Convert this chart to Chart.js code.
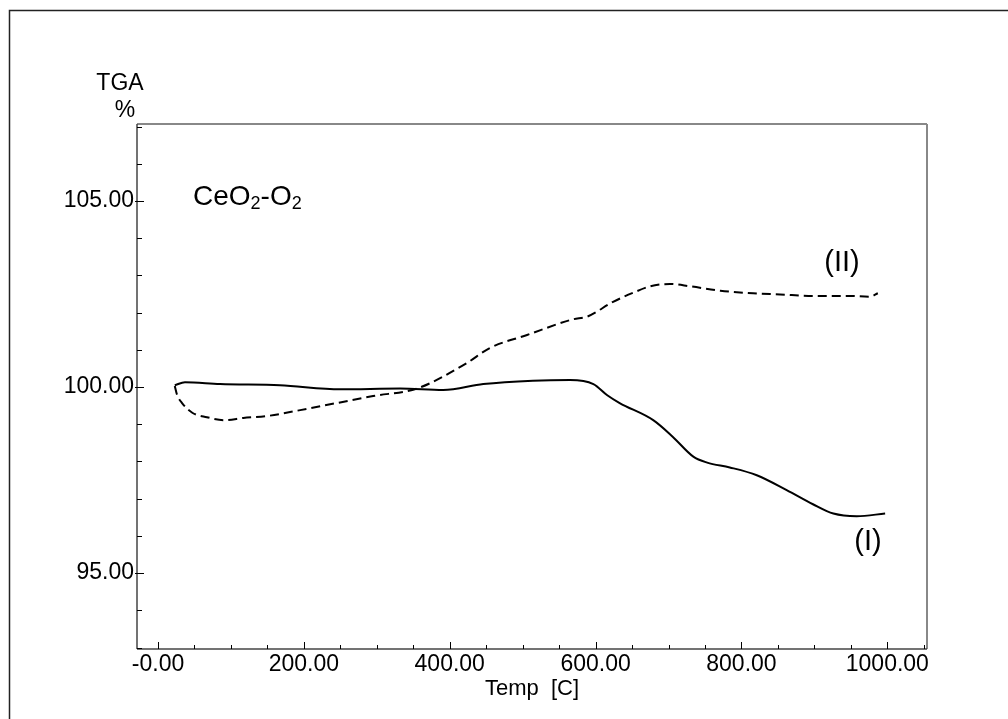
<!DOCTYPE html>
<html>
<head>
<meta charset="utf-8">
<script src="https://cdn.jsdelivr.net/npm/chart.js@4"></script>
<style>
  body { margin: 0; background: #fff; }
  canvas { display: block; }
</style>
</head>
<body>
<canvas id="tga" width="1008" height="719"></canvas>
<script>
// curve (I)
const tempI = [23, 37, 85, 167, 250, 332, 391, 446, 514, 565, 597, 616, 633, 679, 706, 734, 753, 784, 821, 862, 898, 926, 958, 997];
const tgaI = [100.05, 100.13, 100.08, 100.05, 99.94, 99.96, 99.92, 100.08, 100.17, 100.19, 100.08, 99.78, 99.57, 99.11, 98.66, 98.13, 97.97, 97.84, 97.63, 97.23, 96.85, 96.6, 96.53, 96.6];

// curve (II)
const tempII = [23, 26, 33, 47, 67, 92, 117, 149, 195, 245, 295, 355, 423, 455, 506, 569, 588, 624, 651, 675, 702, 729, 771, 816, 853, 898, 944, 976, 987];
const tgaII = [100.03, 99.8, 99.57, 99.31, 99.19, 99.11, 99.17, 99.22, 99.38, 99.57, 99.76, 99.96, 100.64, 101.05, 101.4, 101.82, 101.89, 102.29, 102.53, 102.71, 102.77, 102.71, 102.59, 102.52, 102.49, 102.45, 102.45, 102.43, 102.52];

const xTickValues = [0, 200, 400, 600, 800, 1000];
const xTickLabels = ['-0.00', '200.00', '400.00', '600.00', '800.00', '1000.00'];
const yTickValues = [95, 100, 105];
const yTickLabels = ['95.00', '100.00', '105.00'];

const FONT = '"Liberation Sans", Arial, sans-serif';

function pts(xs, ys) {
  return xs.map((x, i) => ({ x: x, y: ys[i] }));
}

function line(ctx, x1, y1, x2, y2) {
  ctx.beginPath();
  ctx.moveTo(x1, y1);
  ctx.lineTo(x2, y2);
  ctx.stroke();
}

// frame, tick marks and the free text labels
const decor = {
  id: 'decor',
  afterDraw(chart) {
    const { ctx, chartArea: a, scales: { x, y } } = chart;
    ctx.save();

    // cut the last x label at the right border
    ctx.fillStyle = '#fff';
    ctx.fillRect(a.right + 1, a.bottom + 1, 1008 - a.right, 40);

    // outer box
    ctx.strokeStyle = '#222';
    ctx.lineWidth = 1.5;
    ctx.strokeRect(9.5, 10.5, 1200, 1000);

    // plot box
    ctx.strokeStyle = '#888';
    ctx.lineWidth = 2;
    line(ctx, a.left, a.top, a.right, a.top);
    line(ctx, a.right, a.top, a.right, a.bottom);
    ctx.strokeStyle = '#444';
    ctx.lineWidth = 1.5;
    line(ctx, a.left, a.top, a.left, a.bottom);
    line(ctx, a.left, a.bottom, a.right, a.bottom);

    // ticks
    ctx.strokeStyle = '#000';
    ctx.lineWidth = 1;
    for (let v = 93; v <= 107; v++) {
      const py = Math.round(y.getPixelForValue(v)) + 0.5;
      if (yTickValues.includes(v)) line(ctx, a.left - 2, py, a.left + 7, py);
      else line(ctx, a.left, py, a.left + 5, py);
    }
    for (let v = 0; v <= 1050; v += 50) {
      const px = Math.round(x.getPixelForValue(v)) + 0.5;
      if (xTickValues.includes(v)) line(ctx, px, a.bottom, px, a.bottom - 7);
      else line(ctx, px, a.bottom, px, a.bottom - 4);
    }

    ctx.fillStyle = '#000';
    ctx.textAlign = 'center';
    ctx.textBaseline = 'middle';
    ctx.font = '23px ' + FONT;
    ctx.fillText('TGA', 120, 84);
    ctx.fillText('%', 125, 111);

    ctx.font = '29px ' + FONT;
    ctx.fillText('(II)', 842, 263);
    ctx.fillText('(I)', 868, 542);

    // CeO2-O2 with subscripts
    ctx.textAlign = 'left';
    ctx.textBaseline = 'alphabetic';
    let cx = 193;
    const base = 205;
    const parts = [['CeO', 28, 0], ['2', 18, 4], ['-O', 28, 0], ['2', 18, 4]];
    parts.forEach(([t, size, drop]) => {
      ctx.font = size + 'px ' + FONT;
      ctx.fillText(t, cx, base + drop);
      cx += ctx.measureText(t).width;
    });

    ctx.restore();
  }
};

new Chart(document.getElementById('tga'), {
  type: 'line',
  data: {
    datasets: [
      {
        label: '(I)',
        data: pts(tempI, tgaI),
        borderColor: '#000',
        borderWidth: 2,
        pointRadius: 0,
        cubicInterpolationMode: 'monotone'
      },
      {
        label: '(II)',
        data: pts(tempII, tgaII),
        borderColor: '#000',
        borderWidth: 2,
        borderDash: [9, 5],
        pointRadius: 0,
        cubicInterpolationMode: 'monotone'
      }
    ]
  },
  options: {
    responsive: false,
    animation: false,
    devicePixelRatio: 1,
    layout: { padding: { left: 0, top: 124, right: 81, bottom: 0 } },
    plugins: { legend: { display: false }, tooltip: { enabled: false } },
    scales: {
      x: {
        type: 'linear',
        min: -28.8,
        max: 1054.4,
        grid: { display: false, drawTicks: false },
        border: { display: false },
        afterBuildTicks: s => { s.ticks = xTickValues.map(v => ({ value: v })); },
        afterFit: s => { s.height = 70; },
        ticks: {
          color: '#000',
          padding: 2,
          maxRotation: 0,
          font: { family: FONT, size: 23 },
          callback: v => xTickLabels[xTickValues.indexOf(v)]
        },
        title: {
          display: true,
          text: 'Temp  [C]',
          color: '#000',
          font: { family: FONT, size: 22 },
          padding: { top: 0, bottom: 17 }
        }
      },
      y: {
        min: 92.96,
        max: 107.07,
        grid: { display: false, drawTicks: false },
        border: { display: false },
        afterBuildTicks: s => { s.ticks = yTickValues.map(v => ({ value: v })); },
        afterFit: s => { s.width = 137; },
        ticks: {
          color: '#000',
          padding: 3,
          font: { family: FONT, size: 23 },
          callback: v => yTickLabels[yTickValues.indexOf(v)]
        }
      }
    }
  },
  plugins: [decor]
});
</script>
</body>
</html>
